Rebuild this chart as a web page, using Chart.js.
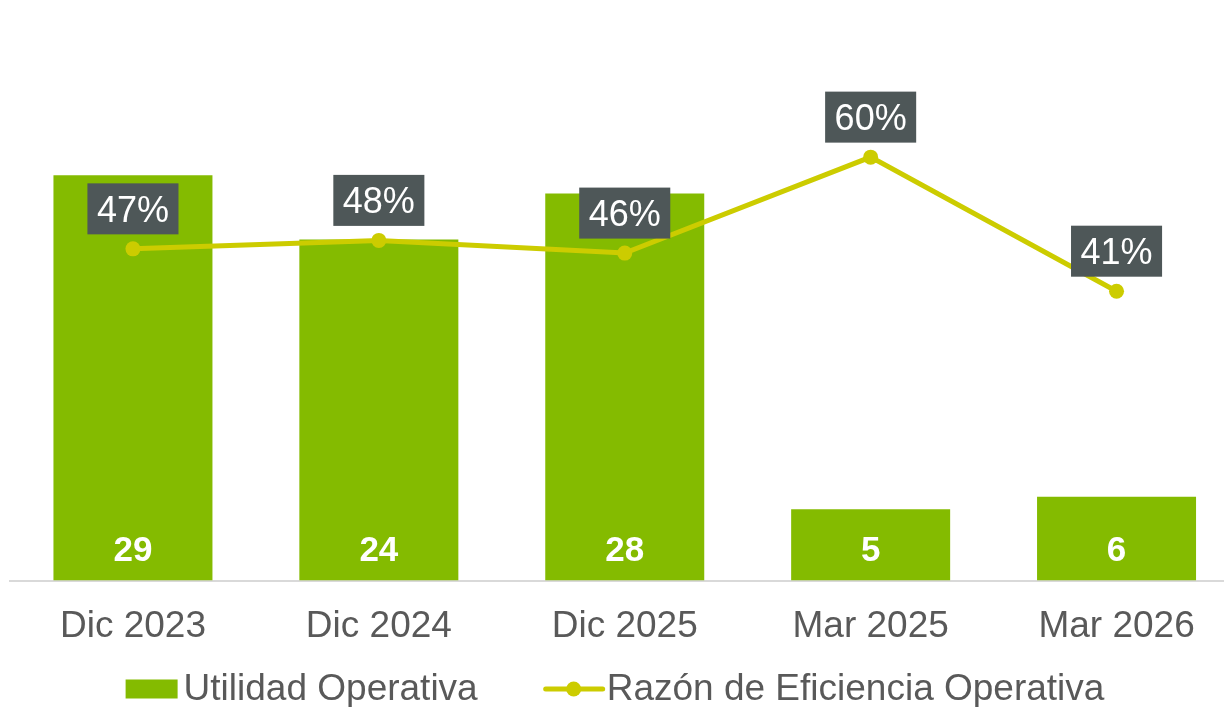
<!DOCTYPE html>
<html>
<head>
<meta charset="utf-8">
<script src="https://cdn.jsdelivr.net/npm/chart.js@4.4.1/dist/chart.umd.min.js"></script>
<style>
  html, body { margin: 0; padding: 0; background: #ffffff; overflow: hidden; }
  #wrap { position: relative; width: 1247px; height: 707px; }
</style>
</head>
<body>
<div id="wrap"><canvas id="c"></canvas></div>
<script>
const categories = ['Dic 2023', 'Dic 2024', 'Dic 2025', 'Mar 2025', 'Mar 2026'];
const utilidadOperativa = [29, 24.4, 27.7, 5.1, 6];
const razonEficiencia = [0.47, 0.482, 0.464, 0.60, 0.41];
const seriesNames = ['Utilidad Operativa', 'Razón de Eficiencia Operativa'];

const BAR_COLOR = '#84BB00';
const LINE_COLOR = '#CCCC00';
const BOX_COLOR = '#4E5758';
const TEXT_COLOR = '#595959';
const FONT = '"Liberation Sans", Arial, sans-serif';

const labelsPlugin = {
  id: 'labelsPlugin',
  afterDatasetsDraw(chart) {
    const ctx = chart.ctx;
    const yBase = chart.scales.y.getPixelForValue(0);
    const barMeta = chart.getDatasetMeta(0);
    ctx.save();
    ctx.fillStyle = '#ffffff';
    ctx.font = 'bold 35px ' + FONT;
    ctx.textAlign = 'center';
    ctx.textBaseline = 'middle';
    barMeta.data.forEach((el, i) => {
      ctx.fillText(String(Math.round(utilidadOperativa[i])), el.x, yBase - 29);
    });
    ctx.restore();
    const lineMeta = chart.getDatasetMeta(1);
    ctx.save();
    ctx.font = '36px ' + FONT;
    ctx.textAlign = 'center';
    ctx.textBaseline = 'middle';
    lineMeta.data.forEach((el, i) => {
      const txt = Math.round(razonEficiencia[i] * 100) + '%';
      const w = ctx.measureText(txt).width + 19;
      const h = 51;
      const bottom = el.y - 14.5;
      ctx.fillStyle = BOX_COLOR;
      ctx.fillRect(el.x - w / 2, bottom - h, w, h);
      ctx.fillStyle = '#ffffff';
      ctx.fillText(txt, el.x, bottom - h / 2 + 3);
    });
    ctx.restore();
  },
  afterDraw(chart) {
    const ctx = chart.ctx;
    ctx.save();
    ctx.font = '37px ' + FONT;
    ctx.textBaseline = 'middle';
    ctx.textAlign = 'left';
    const cy = 689;
    const w1 = ctx.measureText(seriesNames[0]).width;
    const w2 = ctx.measureText(seriesNames[1]).width;
    const total = 52 + 6 + w1 + 68 + 57 + 4 + w2;
    let x = 615 - total / 2;
    ctx.fillStyle = BAR_COLOR;
    ctx.fillRect(x, cy - 9.5, 52, 19);
    x += 58;
    ctx.fillStyle = TEXT_COLOR;
    ctx.fillText(seriesNames[0], x, cy + 1);
    x += w1 + 68;
    ctx.strokeStyle = LINE_COLOR;
    ctx.lineWidth = 5;
    ctx.lineCap = 'round';
    ctx.beginPath();
    ctx.moveTo(x, cy);
    ctx.lineTo(x + 57, cy);
    ctx.stroke();
    ctx.fillStyle = LINE_COLOR;
    ctx.beginPath();
    ctx.arc(x + 28, cy, 7.5, 0, Math.PI * 2);
    ctx.fill();
    x += 61;
    ctx.fillStyle = TEXT_COLOR;
    ctx.fillText(seriesNames[1], x, cy + 1);
    ctx.restore();
  }
};

new Chart(document.getElementById('c'), {
  data: {
    labels: categories,
    datasets: [
      {
        type: 'bar',
        label: seriesNames[0],
        data: utilidadOperativa,
        backgroundColor: BAR_COLOR,
        yAxisID: 'y',
        categoryPercentage: 1,
        barPercentage: 0.6466,
        order: 2
      },
      {
        type: 'line',
        label: seriesNames[1],
        data: razonEficiencia,
        borderColor: LINE_COLOR,
        backgroundColor: LINE_COLOR,
        borderWidth: 5,
        pointRadius: 7.5,
        pointHoverRadius: 7.5,
        pointBackgroundColor: LINE_COLOR,
        pointBorderWidth: 0,
        tension: 0,
        yAxisID: 'y1',
        order: 1
      }
    ]
  },
  options: {
    responsive: true,
    maintainAspectRatio: false,
    animation: false,
    layout: { padding: { left: 10, right: 0, top: 16, bottom: 0 } },
    plugins: {
      legend: { display: false },
      tooltip: { enabled: false }
    },
    scales: {
      x: {
        grid: { display: false, drawTicks: false },
        border: { display: true, color: '#D9D9D9', width: 2 },
        ticks: {
          color: TEXT_COLOR,
          font: { family: FONT, size: 37 },
          padding: 24,
          maxRotation: 0,
          autoSkip: false
        },
        afterFit(scale) { scale.height = 126.5; }
      },
      y: { display: false, min: 0, max: 40.4 },
      y1: { display: false, min: 0, max: 0.8, position: 'right' }
    }
  },
  plugins: [labelsPlugin]
});
</script>
</body>
</html>
